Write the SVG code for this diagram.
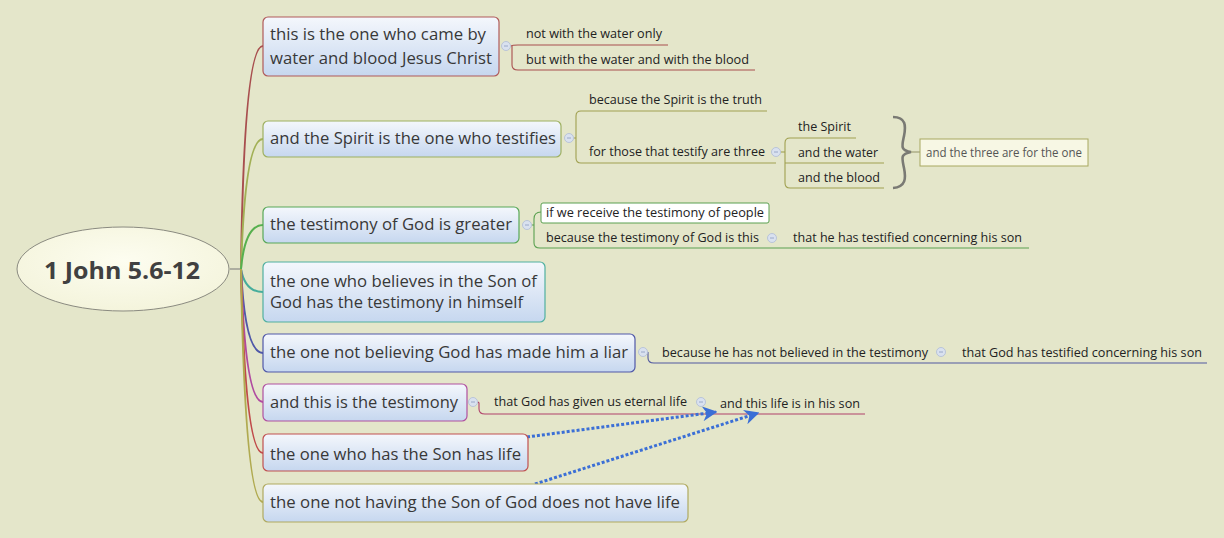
<svg xmlns="http://www.w3.org/2000/svg" width="1224" height="538" viewBox="0 0 1224 538">
<defs>
<linearGradient id="boxg" x1="0" y1="0" x2="0" y2="1">
<stop offset="0" stop-color="#f4f7fc"/>
<stop offset="1" stop-color="#c6d7ef"/>
</linearGradient>
<radialGradient id="rootg" cx="0.5" cy="0.4" r="0.6">
<stop offset="0" stop-color="#fdfdf0"/>
<stop offset="1" stop-color="#f4f4dc"/>
</radialGradient>
<marker id="arr" viewBox="0 0 10 10" refX="9" refY="5" markerWidth="5" markerHeight="5" orient="auto" markerUnits="strokeWidth">
<path d="M0,0 L10,5 L0,10 L3,5 Z" fill="#3b6fd6"/>
</marker>
</defs>
<style>
.main{font-family:"Open Sans","Noto Sans","Liberation Sans",sans-serif;font-size:17px;fill:#383838}
.sub{font-family:"Open Sans","Noto Sans","Liberation Sans",sans-serif;font-size:12.5px;fill:#222222}
.box{fill:url(#boxg);stroke-width:1.2}
.br{fill:none;stroke-width:2}
.sl{fill:none;stroke-width:1.1}
.col{fill:#d9e1ef;stroke:#aebbd6;stroke-width:0.8}
.colm{stroke:#9aa8c8;stroke-width:1}
.dot{fill:none;stroke:#3b6fd6;stroke-width:3;stroke-dasharray:3 2}
</style>
<rect x="0" y="0" width="1224" height="538" fill="#e4e6ca"/>

<g id="connectors">
<path d="M230,269 L241,269" stroke="#777" stroke-width="1" fill="none"/>
<path class="br" stroke="#a84e4e" d="M241,269 Q244,46 263,46"/>
<path class="br" stroke="#a2b055" d="M241,269 Q245,139 263,139"/>
<path class="br" stroke="#56b04e" stroke-width="3.5" d="M241,269 Q245,225 263,225"/>
<path class="br" stroke="#46ad9c" d="M241,269 Q245,292 263,292"/>
<path class="br" stroke="#4f58a8" d="M241,269 Q245,353 263,353"/>
<path class="br" stroke="#b04aa0" d="M241,269 Q245,402 263,402"/>
<path class="br" stroke="#c04a4a" d="M241,269 Q245,453 263,453"/>
<path class="br" stroke="#b0aa50" d="M241,269 Q245,502 263,502"/>

<path class="sl" stroke="#a84e4e" d="M511,46 Q512,45 518,45 L668,45"/>
<path class="sl" stroke="#a84e4e" d="M512,46 L512,65 Q512,70 518,70 L755,70"/>

<path class="sl" stroke="#a0a050" d="M574,138 L576,138"/>
<path class="sl" stroke="#a0a050" d="M576,138 L576,116 Q576,111 581,111 L767,111"/>
<path class="sl" stroke="#a0a050" d="M576,138 L576,158 Q576,163 581,163 L776,163"/>
<path class="sl" stroke="#a0a050" d="M781,152 L785,152"/>
<path class="sl" stroke="#a0a050" d="M785,152 L785,143 Q785,138 790,138 L856,138"/>
<path class="sl" stroke="#a0a050" d="M785,152 L785,183 Q785,188 790,188 L884,188"/>
<path class="sl" stroke="#a0a050" d="M785,163 L884,163"/>
<path d="M893,117 C906,117 906,126 904,136 C902,146 900,150 911,152 C900,154 902,158 904,168 C906,178 906,187 893,188" fill="none" stroke="#7a7a74" stroke-width="2.6"/>
<path class="sl" stroke="#9a9a70" d="M911,152 L920,152"/>

<path class="sl" stroke="#5aa050" d="M532,225 L534,225"/>
<path class="sl" stroke="#5aa050" d="M541,212 Q534,212 534,219 L534,243 Q534,248 540,248 L1029,248"/>

<path class="sl" stroke="#5058a0" d="M648,352 L648,358 Q648,363 654,363 L1207,363"/>

<path class="sl" stroke="#b0406a" d="M478,402 L479,403 L479,409 Q479,414 485,414 L865,414"/>

<path class="dot" d="M527,437 L716,412" marker-end="url(#arr)"/>
<path class="dot" d="M535,484 L758,413" marker-end="url(#arr)"/>
</g>

<g id="root">
<ellipse cx="123" cy="269" rx="106" ry="42" fill="url(#rootg)" stroke="#8a8a80" stroke-width="1"/>
<text x="122" y="279" text-anchor="middle" font-family="'Open Sans','Noto Sans','Liberation Sans',sans-serif" font-size="24" font-weight="bold" fill="#404040" textLength="156" lengthAdjust="spacingAndGlyphs">1 John 5.6-12</text>
</g>

<g id="n1">
<rect class="box" x="263" y="17" width="236" height="59" rx="5" stroke="#b05a5a"/>
<text class="main" x="270" y="40" textLength="216" lengthAdjust="spacingAndGlyphs">this is the one who came by</text>
<text class="main" x="270" y="64" textLength="222" lengthAdjust="spacingAndGlyphs">water and blood Jesus Christ</text>
<circle class="col" cx="506" cy="46" r="4.5"/><path class="colm" d="M504,46 L508,46"/>
</g>
<g id="n1a"><text class="sub" x="526" y="38" textLength="136" lengthAdjust="spacingAndGlyphs">not with the water only</text></g>
<g id="n1b"><text class="sub" x="526" y="64" textLength="223" lengthAdjust="spacingAndGlyphs">but with the water and with the blood</text></g>

<g id="n2">
<rect class="box" x="263" y="121" width="298" height="36" rx="5" stroke="#9eb060"/>
<text class="main" x="270" y="144" textLength="286" lengthAdjust="spacingAndGlyphs">and the Spirit is the one who testifies</text>
<circle class="col" cx="569" cy="138" r="4.5"/><path class="colm" d="M567,138 L571,138"/>
</g>
<g id="n2a"><text class="sub" x="589" y="104" textLength="173" lengthAdjust="spacingAndGlyphs">because the Spirit is the truth</text></g>
<g id="n2b"><text class="sub" x="589" y="156" textLength="176" lengthAdjust="spacingAndGlyphs">for those that testify are three</text>
<circle class="col" cx="776" cy="152" r="4.5"/><path class="colm" d="M774,152 L778,152"/></g>
<g id="n2b1"><text class="sub" x="798" y="131" textLength="53" lengthAdjust="spacingAndGlyphs">the Spirit</text></g>
<g id="n2b2"><text class="sub" x="798" y="157" textLength="80" lengthAdjust="spacingAndGlyphs">and the water</text></g>
<g id="n2b3"><text class="sub" x="798" y="182" textLength="82" lengthAdjust="spacingAndGlyphs">and the blood</text></g>
<g id="n2c">
<rect x="920" y="139" width="168" height="27" fill="#f7f7e4" stroke="#a8a860" stroke-width="1"/>
<text class="sub" x="926" y="157" style="fill:#555555" textLength="156" lengthAdjust="spacingAndGlyphs">and the three are for the one</text>
</g>

<g id="n3">
<rect class="box" x="263" y="207" width="256" height="36" rx="5" stroke="#58a858"/>
<text class="main" x="270" y="230" textLength="242" lengthAdjust="spacingAndGlyphs">the testimony of God is greater</text>
<circle class="col" cx="527" cy="225" r="4.5"/><path class="colm" d="M525,225 L529,225"/>
</g>
<g id="n3a">
<rect x="541" y="203" width="228" height="20" rx="2" fill="#ffffff" stroke="#5aa050" stroke-width="1"/>
<text class="sub" x="546" y="217" textLength="218" lengthAdjust="spacingAndGlyphs">if we receive the testimony of people</text>
</g>
<g id="n3b"><text class="sub" x="546" y="242" textLength="213" lengthAdjust="spacingAndGlyphs">because the testimony of God is this</text>
<circle class="col" cx="772" cy="238" r="4.5"/><path class="colm" d="M770,238 L774,238"/></g>
<g id="n3b1"><text class="sub" x="793" y="242" textLength="229" lengthAdjust="spacingAndGlyphs">that he has testified concerning his son</text></g>

<g id="n4">
<rect class="box" x="263" y="262" width="282" height="60" rx="5" stroke="#50b0a0"/>
<text class="main" x="270" y="287" textLength="267" lengthAdjust="spacingAndGlyphs">the one who believes in the Son of</text>
<text class="main" x="270" y="308" textLength="253" lengthAdjust="spacingAndGlyphs">God has the testimony in himself</text>
</g>

<g id="n5">
<rect class="box" x="263" y="334" width="372" height="38" rx="5" stroke="#5058a8"/>
<text class="main" x="270" y="358" textLength="358" lengthAdjust="spacingAndGlyphs">the one not believing God has made him a liar</text>
<circle class="col" cx="643" cy="352" r="4.5"/><path class="colm" d="M641,352 L645,352"/>
</g>
<g id="n5a"><text class="sub" x="662" y="357" textLength="266" lengthAdjust="spacingAndGlyphs">because he has not believed in the testimony</text>
<circle class="col" cx="941" cy="352" r="4.5"/><path class="colm" d="M939,352 L943,352"/></g>
<g id="n5a1"><text class="sub" x="962" y="357" textLength="240" lengthAdjust="spacingAndGlyphs">that God has testified concerning his son</text></g>

<g id="n6">
<rect class="box" x="263" y="384" width="204" height="37" rx="5" stroke="#b050a0"/>
<text class="main" x="270" y="408" textLength="188" lengthAdjust="spacingAndGlyphs">and this is the testimony</text>
<circle class="col" cx="473" cy="402" r="4.5"/><path class="colm" d="M471,402 L475,402"/>
</g>
<g id="n6a"><text class="sub" x="494" y="406" textLength="193" lengthAdjust="spacingAndGlyphs">that God has given us eternal life</text>
<circle class="col" cx="701" cy="402" r="4.5"/><path class="colm" d="M699,402 L703,402"/></g>
<g id="n6a1"><text class="sub" x="720" y="408" textLength="140" lengthAdjust="spacingAndGlyphs">and this life is in his son</text></g>

<g id="n7">
<rect class="box" x="263" y="434" width="265" height="37" rx="5" stroke="#c05050"/>
<text class="main" x="270" y="460" textLength="251" lengthAdjust="spacingAndGlyphs">the one who has the Son has life</text>
</g>

<g id="n8">
<rect class="box" x="263" y="484" width="425" height="38" rx="5" stroke="#b0aa60"/>
<text class="main" x="270" y="508" textLength="410" lengthAdjust="spacingAndGlyphs">the one not having the Son of God does not have life</text>
</g>
</svg>
